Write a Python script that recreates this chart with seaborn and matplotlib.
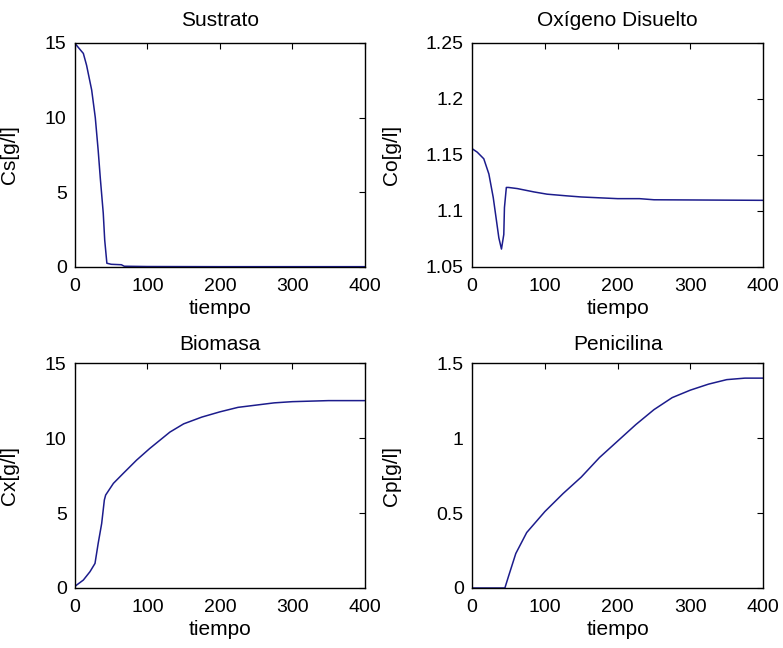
import matplotlib
matplotlib.use("Agg")
import matplotlib.pyplot as plt
import pandas as pd
import seaborn as sns

# ---------------------------------------------------------
# Data
# ---------------------------------------------------------
t_sustrato = [0, 2, 8, 11.5, 16, 23, 28, 32, 35, 39, 41, 44, 50, 64, 68, 100, 200, 300, 400]
cs = [15, 14.85, 14.5, 14.3, 13.5, 11.85, 10.0, 7.8, 5.9, 3.6, 1.8, 0.25, 0.18, 0.15, 0.05, 0.03, 0.02, 0.02, 0.02]

t_oxigeno = [0, 7, 16, 23, 29, 33.5, 36.7, 40.3, 43.5, 44.4, 47, 50, 62, 85, 103, 130, 150, 200, 230, 250, 400]
co = [1.1556, 1.1525, 1.1466, 1.133, 1.112, 1.091, 1.076, 1.066, 1.079, 1.103, 1.121, 1.121,
      1.12, 1.117, 1.115, 1.1135, 1.1125, 1.111, 1.111, 1.110, 1.1095]

t_biomasa = [0, 2.3, 11.5, 20.7, 27.6, 32, 36.8, 40.5, 42.3, 53, 66.7, 85, 103, 131, 150, 175, 200, 225, 250,
             275, 300, 350, 400]
cx = [0.1, 0.2, 0.53, 1.09, 1.64, 2.98, 4.3, 5.87, 6.2, 6.98, 7.65, 8.53, 9.3, 10.4, 10.95, 11.4, 11.75, 12.05,
      12.2, 12.35, 12.43, 12.5, 12.5]

t_penicilina = [0, 45, 50, 60, 75, 100, 125, 150, 175, 200, 225, 250, 275, 300, 325, 350, 375, 400]
cp = [0, 0, 0.078, 0.23, 0.37, 0.51, 0.63, 0.74, 0.87, 0.98, 1.09, 1.19, 1.27, 1.32, 1.36, 1.39, 1.40, 1.40]

panels = [
    ("Sustrato", "Cs[g/l]", t_sustrato, cs, (0, 15), [0, 5, 10, 15], ["0", "5", "10", "15"]),
    ("Oxígeno Disuelto", "Co[g/l]", t_oxigeno, co, (1.05, 1.25),
     [1.05, 1.1, 1.15, 1.2, 1.25], ["1.05", "1.1", "1.15", "1.2", "1.25"]),
    ("Biomasa", "Cx[g/l]", t_biomasa, cx, (0, 15), [0, 5, 10, 15], ["0", "5", "10", "15"]),
    ("Penicilina", "Cp[g/l]", t_penicilina, cp, (0, 1.5), [0, 0.5, 1, 1.5], ["0", "0.5", "1", "1.5"]),
]

x_ticks = [0, 100, 200, 300, 400]

# ---------------------------------------------------------
# Style
# ---------------------------------------------------------
sns.set_style("white")
plt.rcParams['font.family'] = ['Liberation Sans', 'DejaVu Sans']
plt.rcParams.update({
    'xtick.direction': 'in',
    'ytick.direction': 'in',
    'xtick.top': True,
    'ytick.right': True,
    'axes.edgecolor': 'black',
    'axes.linewidth': 1.0,
    'text.color': 'black',
    'axes.labelcolor': 'black',
    'xtick.color': 'black',
    'ytick.color': 'black',
})

fig = plt.figure(figsize=(7.83, 6.48), dpi=100)

# [left, bottom, width, height], ylabel x (axes coords), title pad
layout = [
    ([0.0958, 0.588, 0.370, 0.3457], -0.193, 12),
    ([0.603, 0.588, 0.3716, 0.3457], -0.244, 12),
    ([0.0958, 0.0926, 0.370, 0.347], -0.193, 9.5),
    ([0.603, 0.0926, 0.3716, 0.347], -0.244, 9.5),
]

for (pos, ylab_x, tpad), (title, ylabel, t, y, ylim, yt, ytl) in zip(layout, panels):
    ax = fig.add_axes(pos)
    df = pd.DataFrame({'tiempo': t, 'valor': y})
    sns.lineplot(data=df, x='tiempo', y='valor', ax=ax, color='#1c1c8c', linewidth=1.1)
    ax.set_xlim(0, 400)
    ax.set_ylim(*ylim)
    ax.set_xticks(x_ticks)
    ax.set_xticklabels([str(v) for v in x_ticks])
    ax.set_yticks(yt)
    ax.set_yticklabels(ytl)
    ax.tick_params(axis='both', labelsize=14, length=4, width=0.8, color='black', labelcolor='black')
    ax.tick_params(axis='x', pad=8)
    ax.tick_params(axis='y', pad=6)
    ax.set_title(title, fontsize=15, pad=tpad, color='black')
    ax.set_xlabel('tiempo', fontsize=15, labelpad=3)
    ax.set_ylabel(ylabel, fontsize=15)
    ax.yaxis.set_label_coords(ylab_x, 0.5)
    for s in ax.spines.values():
        s.set_visible(True)
        s.set_color('black')

plt.savefig('out.png', dpi=100, facecolor='white')
plt.close()
